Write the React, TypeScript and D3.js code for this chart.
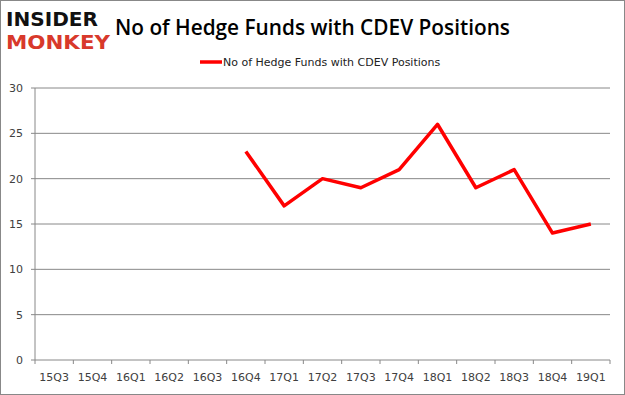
import React from "react";
import * as d3 from "d3";

const quarters = ["15Q3","15Q4","16Q1","16Q2","16Q3","16Q4","17Q1","17Q2","17Q3","17Q4","18Q1","18Q2","18Q3","18Q4","19Q1"];
const values: (number | null)[] = [null,null,null,null,null,23,17,20,19,21,26,19,21,14,15];
const yTicks = [0,5,10,15,20,25,30];
const seriesName = "No of Hedge Funds with CDEV Positions";

export default function App() {
  const W = 625, H = 395;
  const left = 35, right = 610, top = 88, bottom = 360;
  const x = d3.scaleBand().domain(quarters).range([left, right]);
  const y = d3.scaleLinear().domain([0, 30]).range([bottom, top]);
  const pts = quarters.map((q, i) => ({ q, v: values[i] })).filter(d => d.v !== null) as { q: string; v: number }[];
  const line = d3.line<{ q: string; v: number }>().x(d => (x(d.q) as number) + x.bandwidth() / 2).y(d => y(d.v));
  const font = "'DejaVu Sans', Verdana, sans-serif";
  return (
    <svg width={W} height={H} style={{ position: "absolute", left: 0, top: 0 }}>
      <rect x={0.5} y={0.5} width={W - 1} height={H - 1} fill="#fff" stroke="#888" />
      <g fontFamily="'DejaVu Sans', sans-serif" fontWeight="bold">
        <text x={6} y={26} fontSize={20} fill="#111" textLength={92} lengthAdjust="spacingAndGlyphs">INSIDER</text>
        <text x={6} y={49} fontSize={20} fill="#d8392b" textLength={104} lengthAdjust="spacingAndGlyphs">MONKEY</text>
      </g>
      <text x={115} y={35} fontSize={21} fontWeight={600} fontFamily="'Open Sans', sans-serif" fill="#000" textLength={395} lengthAdjust="spacingAndGlyphs">No of Hedge Funds with CDEV Positions</text>
      {yTicks.map(t => (
        <g key={t}>
          <line x1={left} x2={right} y1={y(t)} y2={y(t)} stroke="#888" />
          <line x1={left - 4} x2={left} y1={y(t)} y2={y(t)} stroke="#888" />
          <text x={23} y={y(t) + 4} fontSize={11} textAnchor="end" fontFamily={font} fill="#404040">{t}</text>
        </g>
      ))}
      <line x1={left} x2={left} y1={top} y2={bottom} stroke="#888" />
      {quarters.map((q) => (
        <g key={q}>
          <line x1={(x(q) as number)} x2={(x(q) as number)} y1={bottom} y2={bottom + 4} stroke="#888" />
          <text x={(x(q) as number) + x.bandwidth() / 2} y={381} fontSize={11} textAnchor="middle" fontFamily={font} fill="#404040">{q}</text>
        </g>
      ))}
      <line x1={right} x2={right} y1={bottom} y2={bottom + 4} stroke="#888" />
      <path d={line(pts) || ""} fill="none" stroke="#ff0000" strokeWidth={3.5} strokeLinejoin="round" />
      <line x1={200} x2={222} y1={62} y2={62} stroke="#ff0000" strokeWidth={3.5} />
      <text x={223} y={66} fontSize={11} fontFamily={font} fill="#222">{seriesName}</text>
    </svg>
  );
}
